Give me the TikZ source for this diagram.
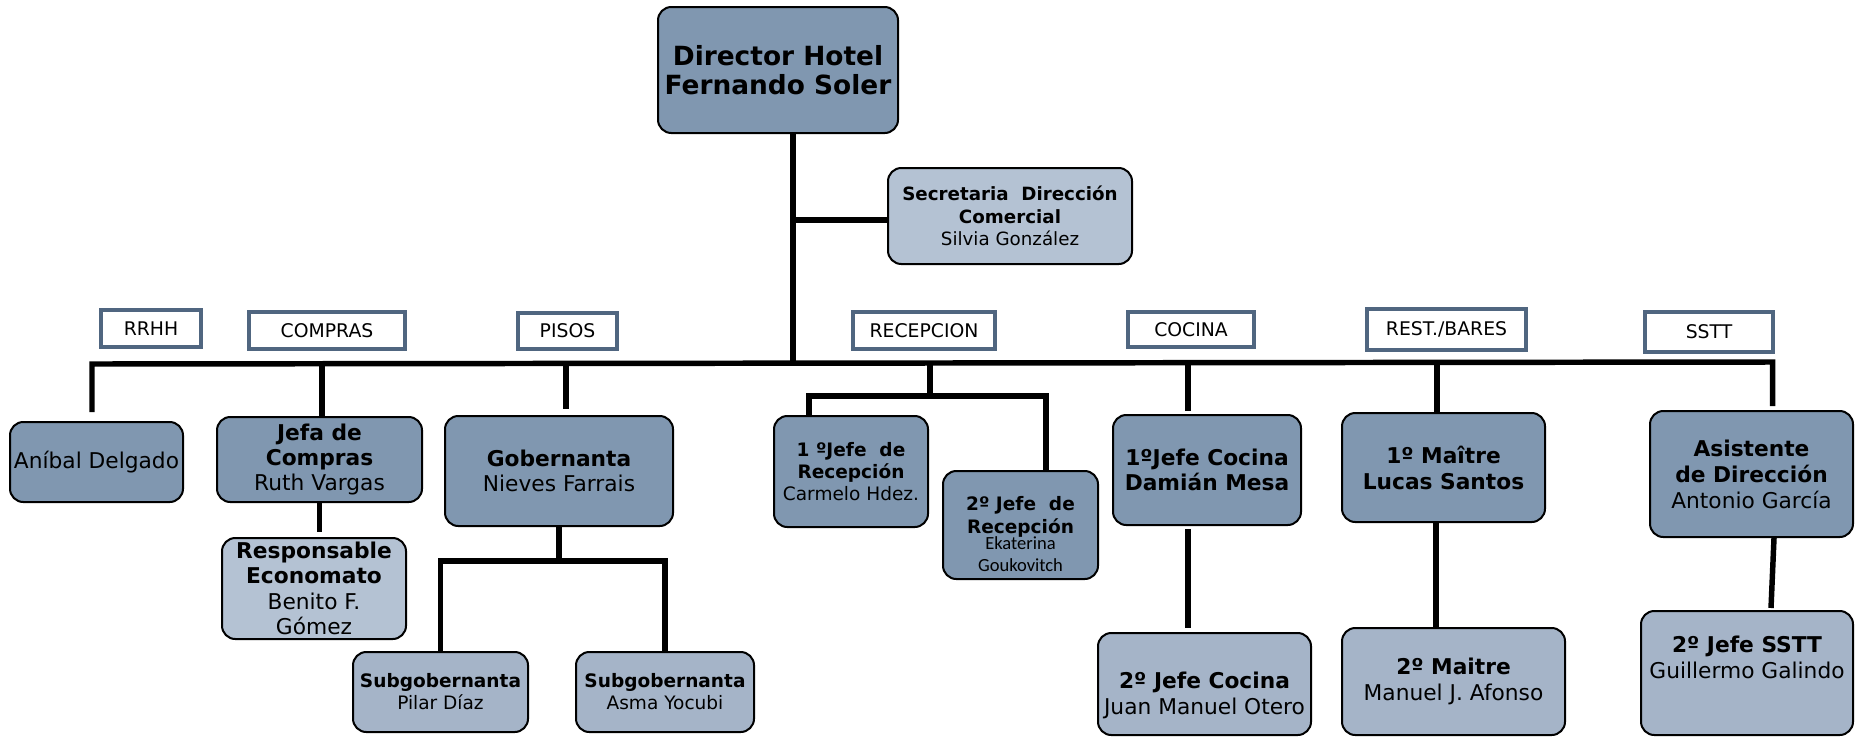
\documentclass[tikz,border=0pt]{standalone}
\usepackage{fontspec}
\setmainfont{DejaVu Sans}
\newfontfamily\calib{Carlito}
\usetikzlibrary{calc}
\definecolor{dfill}{RGB}{128,151,176}
\definecolor{lfill}{RGB}{180,194,211}
\definecolor{mfill}{RGB}{165,180,200}
\definecolor{lblc}{RGB}{80,102,128}
\begin{document}
\begin{tikzpicture}[x=0.75pt,y=-0.75pt,
  sz/.style n args={2}{minimum width=#1*0.75pt, minimum height=#2*0.75pt},
  orgbox/.style={draw=black, line width=1.5pt, rounded corners=10pt, inner sep=0pt, align=center, text=black},
  dbox/.style={orgbox, fill=dfill},
  lbox/.style={orgbox, fill=lfill},
  mbox/.style={orgbox, fill=mfill},
  lbl/.style={draw=lblc, line width=3pt, fill=white, inner sep=0pt, font=\fontsize{14.1}{16}\selectfont},
  conn/.style={line width=4.1pt, black},
  txt/.style={inner sep=0pt, align=center, text=black},
  fA/.style={font=\fontsize{16.3}{19}\selectfont},
  fB/.style={font=\fontsize{13.9}{16.6}\selectfont},
]
\useasboundingbox (0,0) rectangle (1855,736);

% top
\node[dbox, sz={240}{126}, font=\fontsize{19.8}{21.5}\selectfont\bfseries] (dir) at (778,70) {Director Hotel\\Fernando Soler};
\node[lbox, sz={244}{96}, font=\fontsize{13.7}{17}\selectfont] (sec) at (1010,216) {\textbf{Secretaria~ Dirección}\\\textbf{Comercial}\\Silvia González};

% department labels
\node[lbl, sz={100}{37}] (lrrhh) at (151,328.5) {RRHH};
\node[lbl, sz={156}{37}] (lcomp) at (327,330.5) {COMPRAS};
\node[lbl, sz={99}{36}] (lpisos) at (567.5,331) {PISOS};
\node[lbl, sz={142}{37}] (lrecep) at (924,330.5) {RECEPCION};
\node[lbl, sz={126}{35}] (lcoc) at (1191,329.5) {COCINA};
\node[lbl, sz={159}{41}] (lrest) at (1446.5,329.5) {REST./BARES};
\node[lbl, sz={128}{40}] (lsstt) at (1709,332) {SSTT};

% boxes
\node[dbox, sz={173}{80}, fA] (anibal) at (96.5,462) {Aníbal Delgado};
\node[dbox, sz={205}{85}, fA] (jefa) at (319.5,459.5) {\textbf{Jefa de}\\\textbf{Compras}\\Ruth Vargas};
\node[lbox, sz={184}{101}, fA] (resp) at (314,588.5) {\textbf{Responsable}\\\textbf{Economato}\\Benito F.\\Gómez};
\node[dbox, sz={228}{110}, fA] (gob) at (559,471) {\textbf{Gobernanta}\\Nieves Farrais};
\node[mbox, sz={175}{80}, fB] (pilar) at (440.5,692) {\textbf{Subgobernanta}\\Pilar Díaz};
\node[mbox, sz={178}{80}, fB] (asma) at (665,692) {\textbf{Subgobernanta}\\Asma Yocubi};
\node[dbox, sz={154}{111}, fB] (j1r) at (851,471.5) {\textbf{1 ºJefe~ de}\\\textbf{Recepción}\\Carmelo Hdez.};
\node[dbox, sz={155}{108}] (j2r) at (1020.5,525) {};
\node[txt, fB] (j2rT) at (1020.5,534) {\textbf{2º Jefe~ de}\\[0.75pt]\textbf{Recepción}\\[-4.5pt]{\calib Ekaterina}\\{\calib Goukovitch}};
\node[dbox, sz={188}{110}, font=\fontsize{16.3}{18.5}\selectfont] (j1c) at (1207,470) {\textbf{1ºJefe Cocina}\\\textbf{Damián Mesa}};
\node[mbox, sz={213}{102}] (j2c) at (1204.5,684) {};
\node[txt, fA] (j2cT) at (1204.5,695.5) {\textbf{2º Jefe Cocina}\\Juan Manuel Otero};
\node[dbox, sz={203}{109}, font=\fontsize{16.3}{19.5}\selectfont] (m1) at (1443.5,467.5) {\textbf{1º Maître}\\\textbf{Lucas Santos}};
\node[mbox, sz={223}{107}, font=\fontsize{16.3}{19.5}\selectfont] (m2) at (1453.5,681.5) {\textbf{2º Maitre}\\Manuel J. Afonso};
\node[dbox, sz={203}{126}, font=\fontsize{16.3}{19.5}\selectfont] (asis) at (1751.5,474) {\textbf{Asistente}\\\textbf{de Dirección}\\Antonio García};
\node[mbox, sz={212}{124}] (sstt2) at (1747,673) {};
\node[txt, fA] (sstt2T) at (1747,657.5) {\textbf{2º Jefe SSTT}\\Guillermo Galindo};

% connectors
\coordinate (tk) at (793,363);
\coordinate (sj) at (793,220);
\coordinate (bA) at (92,364);
\coordinate (bS) at (1772.5,362);
\coordinate (bC) at (322,363.5);
\coordinate (bP) at (566,363.5);
\coordinate (bR) at (930,363);
\coordinate (bK) at (1188,363);
\coordinate (bM) at (1437,362.5);
\coordinate (rj) at (930,396);
\coordinate (rl) at (809,396);
\coordinate (rr) at (1046,396);
\coordinate (gj) at (559,561);

\draw[conn] (dir.south -| tk) -- (tk);
\draw[conn] (sj) -- (sj -| sec.west);
\draw[conn] ($(anibal.north -| bA)+(0,-9)$) -- (bA) -- (bS) -- ($(asis.north -| bS)+(0,-4)$);
\draw[conn] (bC) -- (bC |- jefa.north);
\draw[conn, shorten >=4.5pt] (bP) -- (bP |- gob.north);
\draw[conn, shorten >=2.25pt] (bK) -- (bK |- j1c.north);
\draw[conn] (bM) -- (bM |- m1.north);
\draw[conn] (bR) -- (rj);
\draw[conn] (rl |- j1r.north) -- (rl) -- (rr) -- (rr |- j2r.north);
\draw[conn, shorten >=3.75pt] (jefa.south) -- (jefa.south |- resp.north);
\draw[conn] (gob.south) -- (gj);
\draw[conn] (pilar.north) |- (gj) -| (asma.north);
\draw[conn, shorten <=2.25pt, shorten >=3pt] (j1c.south -| bK) -- (j2c.north -| bK);
\draw[conn] ($(m1.south -| bM)+(-1,0)$) -- ($(m2.north -| bM)+(-1,0)$);
\draw[conn] ($(asis.south -| bS)+(1.5,0)$) -- ($(sstt2.north -| bS)+(-1.5,-2)$);
\end{tikzpicture}
\end{document}
